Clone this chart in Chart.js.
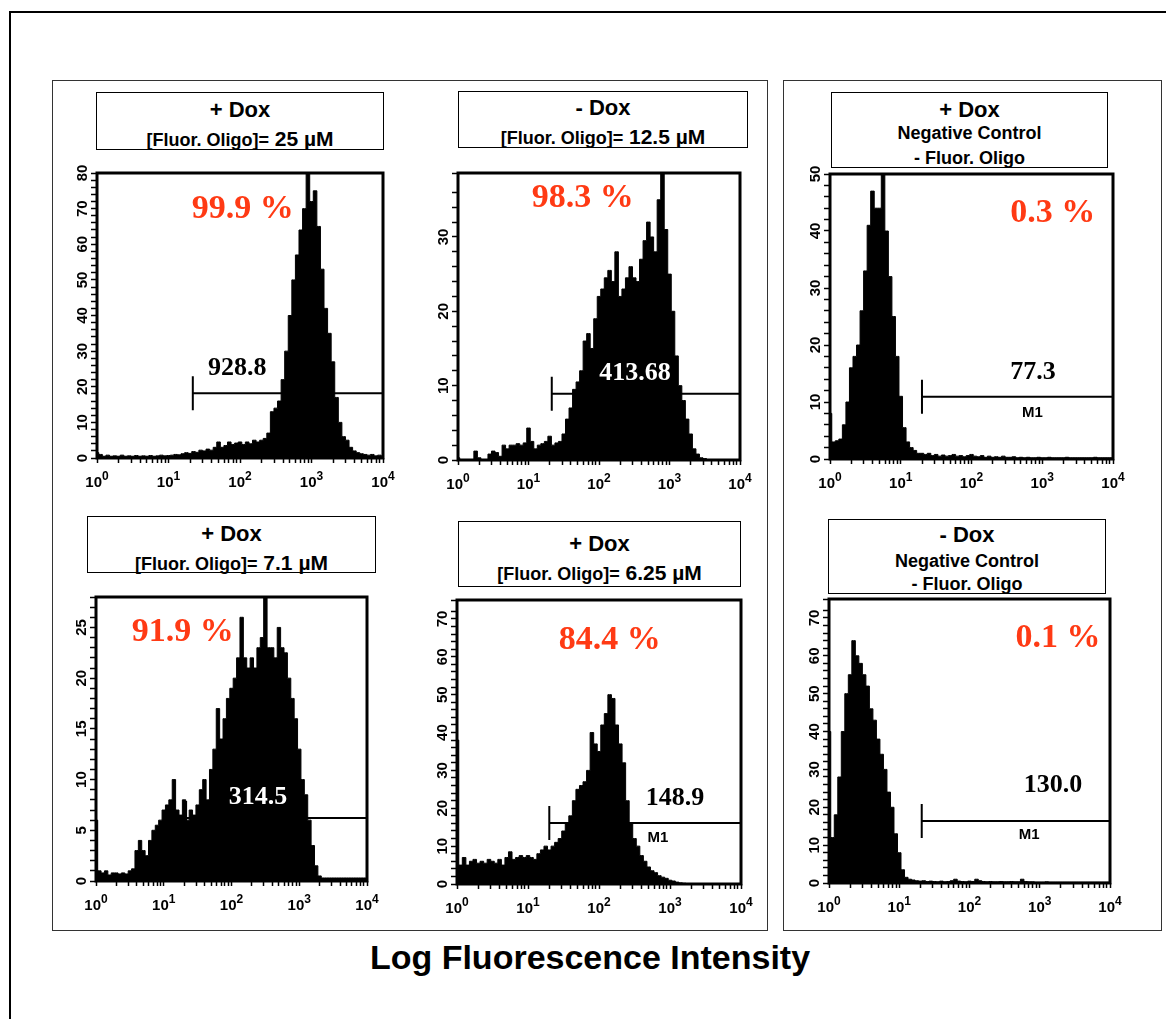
<!DOCTYPE html>
<html>
<head>
<meta charset="utf-8">
<script src="https://cdn.jsdelivr.net/npm/chart.js@4.4.0/dist/chart.umd.min.js"></script>
<style>
  body { margin: 0; background: #fff; }
  #page { position: relative; width: 1166px; height: 1019px; overflow: hidden; font-family: Arial, "Liberation Sans", sans-serif; }
  .outer { position: absolute; left: 9px; top: 11px; width: 1200px; height: 1100px; border: 2px solid #000; }
  .panel { position: absolute; border: 1.5px solid #333; box-sizing: border-box; }
  .tbox { position: absolute; border: 1.5px solid #000; box-sizing: border-box; background: #fff; font-weight: bold; color: #000; }
  .tbox div { position: absolute; left: 0; right: 0; text-align: center; line-height: 1; transform: translateY(-50%); white-space: nowrap; }
  canvas { position: absolute; }
  #xtitle { position: absolute; left: 590px; top: 957px; transform: translate(-50%, -50%); font-weight: bold; font-size: 34px; white-space: nowrap; }
</style>
</head>
<body>
<div id="page">
  <div class="outer"></div>
  <div class="panel" style="left:52px;top:80px;width:716px;height:851px;"></div>
  <div class="panel" style="left:783px;top:80px;width:379px;height:851px;"></div>

  <canvas id="c1"></canvas>
  <canvas id="c2"></canvas>
  <canvas id="c3"></canvas>
  <canvas id="c4"></canvas>
  <canvas id="c5"></canvas>
  <canvas id="c6"></canvas>

  <div class="tbox" style="left:96px;top:92px;width:288px;height:58px;">
    <div style="top:17px;font-size:22px;">+ Dox</div>
    <div style="top:45px;font-size:18px;">[Fluor. Oligo]=<span style="font-size:21px;"> 25 µM</span></div>
  </div>
  <div class="tbox" style="left:458px;top:91px;width:290px;height:57px;">
    <div style="top:16px;font-size:22px;">- Dox</div>
    <div style="top:44px;font-size:18px;">[Fluor. Oligo]=<span style="font-size:21px;"> 12.5 µM</span></div>
  </div>
  <div class="tbox" style="left:831px;top:92px;width:277px;height:76px;">
    <div style="top:17px;font-size:22px;">+ Dox</div>
    <div style="top:40px;font-size:18px;">Negative Control</div>
    <div style="top:65px;font-size:18px;">- Fluor. Oligo</div>
  </div>
  <div class="tbox" style="left:87px;top:516px;width:289px;height:57px;">
    <div style="top:17px;font-size:22px;">+ Dox</div>
    <div style="top:45px;font-size:18px;">[Fluor. Oligo]=<span style="font-size:21px;"> 7.1 µM</span></div>
  </div>
  <div class="tbox" style="left:458px;top:521px;width:283px;height:66px;">
    <div style="top:22px;font-size:22px;">+ Dox</div>
    <div style="top:50px;font-size:18px;">[Fluor. Oligo]=<span style="font-size:21px;"> 6.25 µM</span></div>
  </div>
  <div class="tbox" style="left:828px;top:519px;width:278px;height:75px;">
    <div style="top:15px;font-size:22px;">- Dox</div>
    <div style="top:41px;font-size:18px;">Negative Control</div>
    <div style="top:64px;font-size:18px;">- Fluor. Oligo</div>
  </div>

  <div id="xtitle">Log Fluorescence Intensity</div>
</div>

<script>
// channel positions in decades (10^0 .. 10^4, 0.05 decade per bin)
const binLog = Array.from({ length: 81 }, (_, i) => i / 20);
const decadeExp = ['0', '1', '2', '3', '4'];

// cell counts
const counts1 = [1.5, 1, 0.5, 0.8, 0.5, 0.6, 0.5, 0.8, 0.5, 0.6,
  0.5, 0.7, 0.5, 0.6, 0.5, 0.7, 0.5, 0.6, 0.8, 0.6,
  0.7, 0.8, 1, 0.9, 1.2, 1.5, 1.3, 1.8, 1.6, 2.2,
  2, 2.5, 2.2, 3, 4.5, 3, 3.5, 4.5, 3.8, 4.2,
  4.5, 3.8, 4.5, 4, 5, 4.5, 5, 5.5, 7, 13,
  14, 16, 22, 30, 40, 50, 57, 64, 70, 85,
  72, 75, 65, 53, 42, 35, 27, 17, 10, 6,
  5, 3, 2, 1.5, 1.2, 1, 0.8, 1, 0.6, 0.8, 0.5];
const counts2 = [0.3, 0, 0, 0, 0, 1.2, 0.3, 0, 0, 0.8,
  1.2, 1, 0.5, 2, 1.5, 2, 2, 2.2, 2, 2.3,
  4.3, 2.5, 1.5, 2, 2.2, 2.5, 3.2, 2, 2.3, 2.5,
  3.5, 5.5, 7, 9.5, 10.5, 12, 16, 17, 15, 19,
  22, 23, 24.5, 25.5, 24, 28, 22, 23, 24.5, 26,
  24.5, 24, 27, 29.5, 32, 30, 28, 35, 40, 31,
  25, 20, 14, 10, 8, 5.5, 3.5, 1.5, 0.8, 0.3,
  0.2, 0, 0, 0, 0, 0, 0, 0, 0, 0, 0];
const counts3 = [8, 3, 3.2, 3.5, 6, 10, 16, 18, 20, 26,
  33, 41, 47, 44, 44, 52, 40, 32, 25, 18,
  11, 5.5, 3, 2, 1.5, 1, 1, 0.8, 1, 0.6,
  0.8, 0.5, 0.7, 0.5, 0.6, 0.8, 0.5, 0.6, 0.4, 0.6,
  0.8, 0.5, 0.4, 0.6, 0.3, 0.5, 0.3, 0.4, 0.3, 0.5,
  0.3, 0.3, 0.4, 0.2, 0.3, 0.2, 0.3, 0.2, 0.2, 0.3,
  0.2, 0.2, 0.3, 0.2, 0.2, 0.2, 0.2, 0.3, 0.2, 0.2,
  0.2, 0.2, 0.2, 0.2, 0.2, 0.3, 0.2, 0.2, 0.2, 0.2, 0.2];
const counts4 = [6, 1, 0.8, 1, 0.6, 0.8, 0.8, 0.7, 0.8, 0.7,
  1, 1.2, 3, 4, 3, 2.5, 4, 5, 5.5, 6,
  7, 7.5, 8, 10, 7, 6.5, 8, 6, 7, 6.5,
  7.5, 9, 10, 8, 11, 13, 17, 14, 16, 18,
  19, 20, 22, 26, 22, 21, 22, 21, 23, 24,
  30, 23, 23, 22, 25, 23, 22.5, 20, 18, 16,
  13, 10, 8.5, 6, 3.5, 1.5, 0.5, 0.3, 0.3, 0.3,
  0.3, 0.3, 0.3, 0.3, 0.3, 0.3, 0.3, 0.3, 0.3, 0.3, 0.3];
const counts5 = [38, 5, 7, 5, 6, 6.5, 5.5, 6, 5.5, 6.5,
  6, 5.5, 6.5, 5, 7, 8.5, 6.5, 7, 7.5, 7,
  7.5, 7, 6.5, 8, 9, 10, 9, 10, 11, 12,
  14, 16, 18, 22, 25, 26, 27, 30, 40, 37,
  35, 42, 45, 50, 49, 42, 37, 32, 22, 16,
  12, 10, 7.5, 6, 4.5, 3.5, 3, 2.2, 1.8, 1.5,
  1, 0.8, 0.5, 0.3, 0.2, 0, 0, 0, 0, 0,
  0, 0, 0, 0, 0, 0, 0, 0, 0, 0, 0];
const counts6 = [40, 12, 18, 28, 40, 50, 55, 64, 60, 58,
  55, 52, 46, 43, 38, 34, 30, 24, 20, 13,
  8, 3.5, 1.5, 1, 0.8, 0.6, 0.5, 0.6, 0.4, 0.5,
  0.4, 0.3, 0.5, 0.3, 0.4, 0.6, 1, 0.5, 0.4, 0.3,
  0.5, 0.4, 1, 0.6, 0.4, 0.3, 0.4, 0.3, 0.3, 0.4,
  0.3, 0.3, 0.4, 0.3, 0.3, 1, 0.4, 0.3, 0.3, 0.2,
  0.2, 0.2, 0.3, 0.2, 0.2, 0.2, 0.2, 0.2, 0.2, 0.2,
  0.2, 0.2, 0.2, 0.2, 0.2, 0.2, 0.2, 0.2, 0.2, 0.2, 0.2];

const pctLabels = ['99.9 %', '98.3 %', '0.3 %', '91.9 %', '84.4 %', '0.1 %'];
const meanLabels = ['928.8', '413.68', '77.3', '314.5', '148.9', '130.0'];
// M1 gate: start (decades) and level (counts)
const gateStart = [1.34, 1.33, 1.30, 1.33, 1.30, 1.32];
const gateLevel = [18.2, 8.9, 10.9, 6.2, 16.1, 16.4];
const yMaxes = [80, 38.6, 50, 28, 75, 75];

// layout of each histogram: plot frame in page px, label spots in data units
const panels = [
  { id: 'c1', counts: counts1, minor: 2, step: 10, area: [97, 173, 383, 458], pctAt: [2.04, 69.9], meanAt: [1.96, 25.3], meanColor: '#000', m1At: null },
  { id: 'c2', counts: counts2, minor: 2, step: 10, area: [458, 173, 740, 460], pctAt: [1.77, 35.2], meanAt: [2.51, 11.7], meanColor: '#fff', m1At: null },
  { id: 'c3', counts: counts3, minor: 2, step: 10, area: [830, 174, 1113, 459], pctAt: [3.15, 43.2], meanAt: [2.87, 15.3], meanColor: '#000', m1At: [2.86, 8.1] },
  { id: 'c4', counts: counts4, minor: 1, step: 5, area: [96, 597, 367, 881], pctAt: [1.28, 24.5], meanAt: [2.39, 8.3], meanColor: '#fff', m1At: null },
  { id: 'c5', counts: counts5, minor: 2, step: 10, area: [457, 600, 741, 884], pctAt: [2.15, 64.4], meanAt: [3.07, 22.7], meanColor: '#000', m1At: [2.83, 12.1] },
  { id: 'c6', counts: counts6, minor: 2, step: 10, area: [829, 599, 1110, 883], pctAt: [3.26, 64.7], meanAt: [3.19, 25.9], meanColor: '#000', m1At: [2.85, 12.7] }
];

// major + minor log ticks
const xTickValues = [];
for (let n = 0; n <= 4; n++) {
  xTickValues.push(n);
  if (n < 4) for (let k = 2; k <= 9; k++) xTickValues.push(n + Math.log10(k));
}

const PAD_L = 45, PAD_T = 12, PAD_R = 18, PAD_B = 38;
const serif = '"Liberation Serif", "Times New Roman", serif';
const sans = 'Arial, "Liberation Sans", sans-serif';

const decor = {
  id: 'decor',
  afterDatasetsDraw(chart, args, o) {
    const { ctx, chartArea: a, scales: { x, y } } = chart;
    ctx.save();
    ctx.strokeStyle = '#000';
    // M1 gate marker
    const gx = x.getPixelForValue(gateStart[o.idx]);
    const gy = y.getPixelForValue(gateLevel[o.idx]);
    ctx.lineWidth = 2;
    ctx.beginPath();
    ctx.moveTo(gx, gy); ctx.lineTo(a.right, gy);
    ctx.moveTo(gx, gy - 17); ctx.lineTo(gx, gy + 17);
    ctx.stroke();
    ctx.textAlign = 'center';
    ctx.textBaseline = 'middle';
    // percent positive
    ctx.fillStyle = '#FF3A14';
    ctx.font = 'bold 34px ' + serif;
    ctx.fillText(pctLabels[o.idx], x.getPixelForValue(o.pctAt[0]), y.getPixelForValue(o.pctAt[1]));
    // mean fluorescence
    ctx.fillStyle = o.meanColor;
    ctx.font = 'bold 26px ' + serif;
    ctx.fillText(meanLabels[o.idx], x.getPixelForValue(o.meanAt[0]), y.getPixelForValue(o.meanAt[1]));
    if (o.m1At) {
      ctx.fillStyle = '#000';
      ctx.font = 'bold 15px ' + sans;
      ctx.fillText('M1', x.getPixelForValue(o.m1At[0]), y.getPixelForValue(o.m1At[1]));
    }
    // plot frame
    ctx.lineWidth = 3;
    ctx.strokeRect(a.left, a.top, a.right - a.left, a.bottom - a.top);

    // decade labels 10^n with raised exponent
    ctx.fillStyle = '#000';
    ctx.textBaseline = 'alphabetic';
    ctx.textAlign = 'left';
    decadeExp.forEach((e, n) => {
      const px = x.getPixelForValue(n);
      ctx.font = 'bold 15px ' + sans;
      const wb = ctx.measureText('10').width;
      ctx.font = 'bold 12px ' + sans;
      const we = ctx.measureText(e).width;
      const x0 = px - (wb + we) / 2;
      const base = a.bottom + 29;
      ctx.font = 'bold 15px ' + sans;
      ctx.fillText('10', x0, base);
      ctx.font = 'bold 12px ' + sans;
      ctx.fillText(e, x0 + wb, base - 7);
    });
    ctx.restore();
  }
};

panels.forEach((p, idx) => {
  const cv = document.getElementById(p.id);
  const [l, t, r, b] = p.area;
  const w = r - l + PAD_L + PAD_R;
  const h = b - t + PAD_T + PAD_B;
  cv.width = w; cv.height = h;
  cv.style.left = (l - PAD_L) + 'px';
  cv.style.top = (t - PAD_T) + 'px';
  cv.style.width = w + 'px';
  cv.style.height = h + 'px';

  new Chart(cv.getContext('2d'), {
    type: 'line',
    data: {
      datasets: [{
        data: binLog.map((v, i) => ({ x: v, y: p.counts[i] })),
        stepped: 'middle',
        fill: 'origin',
        backgroundColor: '#000',
        borderColor: '#000',
        borderWidth: 1,
        pointRadius: 0,
        clip: 0
      }]
    },
    options: {
      responsive: false,
      animation: false,
      devicePixelRatio: 1,
      layout: { padding: { left: 0, top: PAD_T, right: PAD_R, bottom: 0 } },
      plugins: {
        legend: { display: false },
        tooltip: { enabled: false },
        decor: Object.assign({ idx }, p)
      },
      scales: {
        x: {
          type: 'linear',
          min: 0,
          max: 4,
          afterBuildTicks: s => { s.ticks = xTickValues.map(v => ({ value: v })); },
          afterFit: s => { s.height = PAD_B; },
          border: { display: false },
          grid: { drawOnChartArea: false, tickLength: 5, tickColor: '#000', tickWidth: 1.5 },
          ticks: {
            autoSkip: false,
            maxRotation: 0,
            padding: 8,
            color: '#000',
            font: { family: sans, weight: 'bold', size: 15 },
            callback: () => ''
          }
        },
        y: {
          min: 0,
          max: yMaxes[idx],
          afterFit: s => { s.width = PAD_L; },
          border: { display: false },
          grid: { drawOnChartArea: false, tickLength: 6, tickColor: '#000', tickWidth: 1.5 },
          ticks: {
            stepSize: p.minor,
            autoSkip: false,
            minRotation: 90,
            maxRotation: 90,
            crossAlign: 'center',
            padding: 0,
            color: '#000',
            font: { family: sans, weight: 'bold', size: 15 },
            callback: v => (v % p.step === 0 ? String(v) : '')
          }
        }
      }
    },
    plugins: [decor]
  });
});
</script>
</body>
</html>
